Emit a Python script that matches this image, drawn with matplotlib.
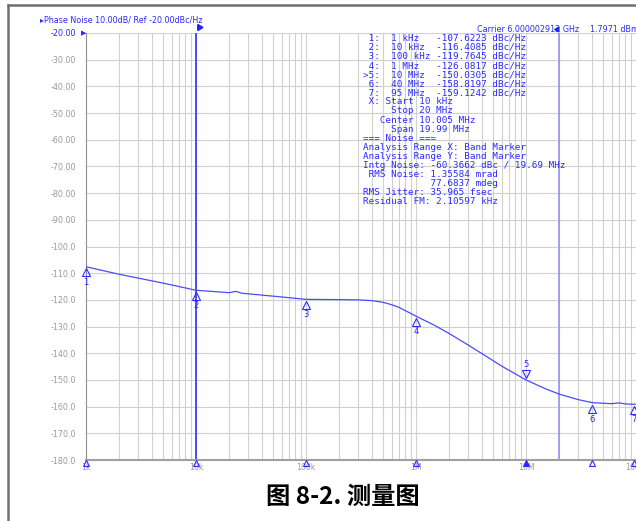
import numpy as np
import matplotlib.pyplot as plt
from matplotlib.lines import Line2D
from matplotlib.transforms import offset_copy

# trace (Hz, dBc/Hz)
freq = [1e3, 2e3, 5e3, 1e4, 2e4, 2.3e4, 2.6e4, 5e4, 1e5, 2e5, 3e5, 4e5, 5e5, 6e5, 7e5,
        1e6, 1.5e6, 2e6, 3e6, 4e6, 6e6, 1e7, 1.5e7, 2e7, 3e7, 4e7, 6e7, 7e7, 8e7,
        9.5e7, 1e8]
noise = [-107.6, -110.4, -113.7, -116.4, -117.3, -116.8, -117.5, -118.6, -119.8,
         -119.9, -120.0, -120.3, -120.9, -121.8, -122.8, -126.1, -129.7, -132.6,
         -137.0, -140.2, -144.8, -150.0, -153.3, -155.3, -157.4, -158.5, -158.9,
         -158.6, -159.0, -159.1, -159.1]

# markers
mk_num = [1, 2, 3, 4, 5, 6, 7]
mk_freq = [1e3, 1e4, 1e5, 1e6, 1e7, 4e7, 9.5e7]
mk_val = [-107.6223, -116.4085, -119.7645, -126.0817, -150.0305, -158.8197, -159.1242]
mk_lbl = ["1 kHz", "10 kHz", "100 kHz", "1 MHz", "10 MHz", "40 MHz", "95 MHz"]
active = 5

yticks = list(range(-20, -181, -10))
xticks = [1e3, 1e4, 1e5, 1e6, 1e7, 1e8]
xlabels = ["1k", "10k", "100k", "1M", "10M", "100M"]

info = [
    " X: Start 10 kHz",
    "     Stop 20 MHz",
    "   Center 10.005 MHz",
    "     Span 19.99 MHz",
    "=== Noise ===",
    "Analysis Range X: Band Marker",
    "Analysis Range Y: Band Marker",
    "Intg Noise: -60.3662 dBc / 19.69 MHz",
    " RMS Noise: 1.35584 mrad",
    "            77.6837 mdeg",
    "RMS Jitter: 35.965 fsec",
    "Residual FM: 2.10597 kHz",
]

BLUE = '#2a2aff'
TRACE = '#4b4bff'
GRID = '#d0d0d0'
W, H = 636, 521


def px(x, y):
    return x / W, 1 - y / H


fig = plt.figure(figsize=(W / 100, H / 100), dpi=100)
ax = fig.add_axes([86 / W, 1 - 460 / H, 550 / W, 427 / H])
ax.set_xscale('log')
ax.set_xlim(1e3, 1e8)
ax.set_ylim(-180, -20)

# grid
for d in range(3, 8):
    for m in range(1, 10):
        ax.axvline(m * 10 ** d, color=GRID, lw=0.8, zorder=0)
for v in yticks:
    ax.axhline(v, color=GRID, lw=0.8, zorder=0)

ax.set_yticks(yticks)
ax.set_yticklabels([f"{v:.2f}" if v > -100 else f"{v:.1f}" for v in yticks],
                   fontsize=5.8, color='#9a9a9a')
ax.get_yticklabels()[0].set_color(BLUE)
ax.set_xticks(xticks)
ax.set_xticklabels(xlabels, fontsize=5.6, color='#9a9a9a')
ax.minorticks_off()
ax.tick_params(length=0, pad=7)
ax.tick_params(axis='x', pad=2)
for s in ['top', 'right']:
    ax.spines[s].set_visible(False)
ax.spines['left'].set_color('#909090')
ax.spines['bottom'].set_color('#a0a0a0')
ax.spines['bottom'].set_linewidth(1.5)

# start / stop lines
ax.axvline(1e4, color='#2020ff', lw=1.1, zorder=2)
ax.axvline(2e7, color='#8c8cff', lw=1.1, zorder=2)
ax.plot([1e4], [-20], marker=(3, 0, -90), color='#2020ff', ms=5,
        clip_on=False, transform=offset_copy(ax.transData, fig, x=2, y=4, units='points'))

ax.plot(freq, noise, color=TRACE, lw=0.9, zorder=3)

# markers on the trace
for n, f, v in zip(mk_num, mk_freq, mk_val):
    if n == active:
        t = offset_copy(ax.transData, fig, x=0, y=4, units='points')
        ax.plot([f], [v], marker='v', ms=5.5, mfc='none', mec=BLUE, mew=0.8,
                transform=t, clip_on=False, zorder=4)
        ax.annotate(str(n), (f, v), xytext=(0, 8), textcoords='offset points',
                    ha='center', va='bottom', fontsize=6, color=BLUE)
    else:
        t = offset_copy(ax.transData, fig, x=0, y=-4, units='points')
        ax.plot([f], [v], marker='^', ms=5.5, mfc='none', mec=BLUE, mew=0.8,
                transform=t, clip_on=False, zorder=4)
        ax.annotate(str(n), (f, v), xytext=(0, -8), textcoords='offset points',
                    ha='center', va='top', fontsize=6, color=BLUE)
    # stimulus marks on the bottom edge
    tb = offset_copy(ax.transData, fig, x=0, y=-2.5, units='points')
    ax.plot([f], [-180], marker='^', ms=4.5, mfc=BLUE if n == active else 'none',
            mec=BLUE, mew=0.8, transform=tb, clip_on=False, zorder=4)

# headers
fig.text(*px(40, 20), "\u25b8Phase Noise 10.00dB/ Ref -20.00dBc/Hz", fontsize=5.8,
         color=BLUE, va='center')
fig.text(*px(84, 33), "\u25b6", fontsize=5, color=BLUE, va='center', ha='center')
fig.text(*px(477, 29), "Carrier 6.000002912 GHz", fontsize=5.8, color=BLUE, va='center')
fig.text(*px(590, 29), "1.7971 dBm", fontsize=5.8, color=BLUE, va='center')
ax.plot([2e7], [-20], marker=(3, 0, 90), color='#2020ff', ms=4,
        clip_on=False, transform=offset_copy(ax.transData, fig, x=-1.5, y=3, units='points'))

# marker table and noise summary
lines = []
for n, lb, v in zip(mk_num, mk_lbl, mk_val):
    pre = (">" if n == active else " ") + f"{n}:"
    lines.append(f"{pre}  {lb:<8}{v:>9.4f} dBc/Hz")
lines += info
for i, s in enumerate(lines):
    fig.text(*px(363, 38.3 + i * 9.08), s, fontsize=6.7, family='DejaVu Sans Mono',
             color=BLUE, va='center')

# outer frame
fig.add_artist(Line2D([8 / W, 8 / W], [0, 1 - 5 / H], transform=fig.transFigure,
                      color='#707070', lw=1.8))
fig.add_artist(Line2D([8 / W, 1], [1 - 5 / H, 1 - 5 / H], transform=fig.transFigure,
                      color='#707070', lw=1.8))

fig.text(*px(343, 497), "图 8-2. 测量图", fontsize=17.5, fontweight='bold',
         family=['Noto Sans CJK SC', 'DejaVu Sans'], ha='center', va='center')

fig.savefig('out.png', dpi=100)
